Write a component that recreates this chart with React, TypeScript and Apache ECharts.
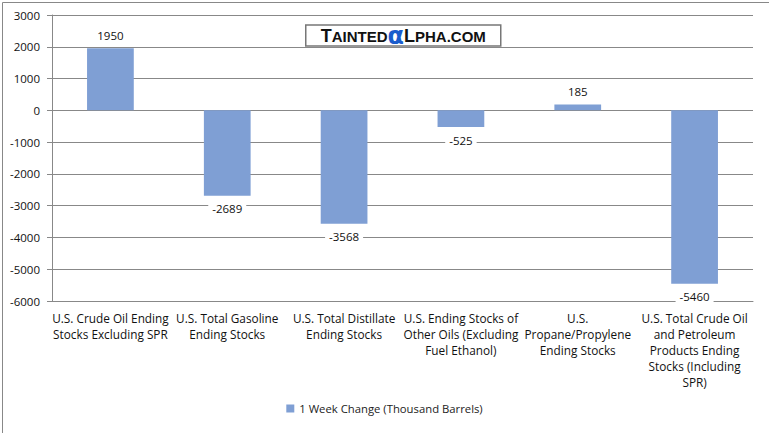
import React, { useEffect, useRef } from "react";
import * as echarts from "echarts";

const categories = [
  "U.S. Crude Oil Ending\nStocks Excluding SPR",
  "U.S. Total Gasoline\nEnding Stocks",
  "U.S. Total Distillate\nEnding Stocks",
  "U.S. Ending Stocks of\nOther Oils (Excluding\nFuel Ethanol)",
  "U.S.\nPropane/Propylene\nEnding Stocks",
  "U.S. Total Crude Oil\nand Petroleum\nProducts Ending\nStocks (Including\nSPR)",
];
const weekChange = [1950, -2689, -3568, -525, 185, -5460];
const seriesName = "1 Week Change (Thousand Barrels)";

const FONT = "Open Sans";

export default function App() {
  const ref = useRef<HTMLDivElement>(null);
  useEffect(() => {
    document.body.style.margin = "0";
    const chart = echarts.init(ref.current!, null, { renderer: "svg" });
    chart.setOption({
      animation: false,
      backgroundColor: "#ffffff",
      grid: { left: 52, right: 16, top: 15, bottom: 132 },
      legend: {
        bottom: 14,
        left: "center",
        itemWidth: 8,
        itemHeight: 8,
        itemGap: 4,
        icon: "rect",
        textStyle: { fontFamily: FONT, fontSize: 11.3, color: "#222" },
        data: [seriesName],
      },
      xAxis: {
        type: "category",
        data: categories,
        axisLine: { onZero: false, lineStyle: { color: "#888", width: 1 } },
        axisTick: { show: false },
        axisLabel: {
          interval: 0,
          fontFamily: FONT,
          fontSize: 11.8,
          color: "#111",
          lineHeight: 16,
          margin: 9,
        },
      },
      yAxis: {
        type: "value",
        min: -6000,
        max: 3000,
        interval: 1000,
        axisLine: { show: true, lineStyle: { color: "#888" } },
        axisTick: { show: true, length: 5, lineStyle: { color: "#888" } },
        splitLine: { lineStyle: { color: "#888", width: 1 } },
        axisLabel: {
          fontFamily: FONT,
          fontSize: 11.5,
          color: "#111",
          margin: 12,
          formatter: (v: number) => String(v),
        },
      },
      series: [
        {
          name: seriesName,
          type: "bar",
          data: weekChange,
          barWidth: "40%",
          itemStyle: { color: "#7f9fd4" },
          label: {
            show: true,
            position: "outside",
            distance: 7,
            fontFamily: FONT,
            fontSize: 11.5,
            color: "#111",
            backgroundColor: "#ffffff",
            padding: [0, 4],
          },
        },
      ],
      graphic: [
        {
          type: "rect",
          left: 0,
          top: 0,
          shape: { width: 768, height: 432 },
          style: { fill: "none", stroke: "#888", lineWidth: 1 },
          silent: true,
        },
        {
          type: "group",
          left: 305,
          top: 24,
          children: [
            {
              type: "rect",
              shape: { x: 0, y: 0, width: 195, height: 21 },
              style: { fill: "#ffffff", stroke: "#777", lineWidth: 1.5 },
            },
            {
              type: "text",
              x: 97.5,
              y: 11,
              style: {
                text: "{a|T}{b|AINTED}{c|α}{a|L}{b|PHA.COM}",
                align: "center",
                verticalAlign: "middle",
                rich: {
                  a: { fontFamily: "Liberation Sans", fontWeight: "bold", fontSize: 18, fill: "#111" },
                  b: { fontFamily: "Liberation Sans", fontWeight: "bold", fontSize: 15, fill: "#111" },
                  c: { fontFamily: "DejaVu Sans", fontWeight: "bold", fontSize: 24, fill: "#1a5ccc" },
                },
              },
            },
          ],
        },
      ],
    });
    return () => chart.dispose();
  }, []);
  return <div ref={ref} style={{ width: 769, height: 433 }} />;
}
